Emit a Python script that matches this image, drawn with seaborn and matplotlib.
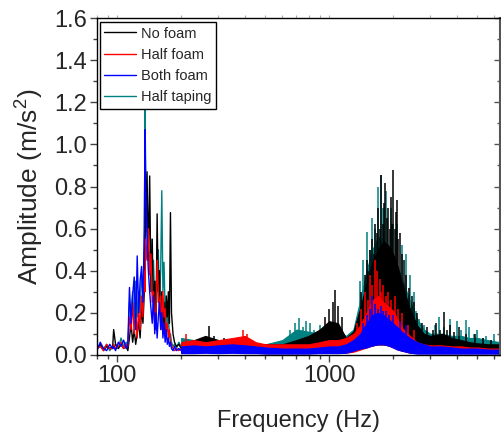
import numpy as np
import matplotlib
matplotlib.use("Agg")
import matplotlib.pyplot as plt
import matplotlib.ticker as mticker
import seaborn as sns

sns.set_theme(style="ticks")
plt.rcParams['font.family'] = ['Liberation Sans', 'DejaVu Sans']
plt.rcParams['mathtext.fontset'] = 'custom'
plt.rcParams['mathtext.rm'] = 'Liberation Sans'

# ---- low frequency part (80-200 Hz), read as individual traces ----
f_low = [80, 83, 86, 89, 92, 95, 96, 98, 101, 104, 107, 110, 112, 114, 116, 118, 120,
         122, 124, 126, 128, 130, 132, 134, 135, 136, 138, 140, 142, 144, 146, 148,
         150, 152, 154, 156, 158, 160, 162, 164, 166, 168, 170, 172, 174, 176, 178,
         180, 183, 186, 190, 195, 200]

nofoam_low = [0.03, 0.05, 0.02, 0.04, 0.03, 0.04, 0.12, 0.05, 0.03, 0.05, 0.03, 0.04, 0.02,
              0.08, 0.15, 0.06, 0.12, 0.05, 0.10, 0.16, 0.08, 0.22, 0.15, 0.30, 0.50, 0.70,
              0.87, 0.45, 0.85, 0.30, 0.55, 0.20, 0.35, 0.12, 0.67, 0.25, 0.40, 0.15, 0.30,
              0.12, 0.25, 0.10, 0.28, 0.18, 0.30, 0.15, 0.676, 0.20, 0.10, 0.06, 0.04, 0.05, 0.03]
halffoam_low = [0.03, 0.04, 0.02, 0.05, 0.03, 0.03, 0.05, 0.03, 0.04, 0.06, 0.03, 0.05, 0.04,
                0.18, 0.12, 0.25, 0.10, 0.20, 0.08, 0.22, 0.12, 0.28, 0.18, 0.40, 0.30, 0.55,
                0.45, 0.60, 0.38, 0.48, 0.25, 0.30, 0.15, 0.22, 0.45, 0.30, 0.20, 0.28, 0.12,
                0.30, 0.18, 0.22, 0.10, 0.15, 0.08, 0.12, 0.06, 0.05, 0.03, 0.02, 0.03, 0.02, 0.03]
bothfoam_low = [0.02, 0.06, 0.03, 0.02, 0.05, 0.03, 0.04, 0.02, 0.06, 0.04, 0.07, 0.03, 0.05,
                0.32, 0.15, 0.28, 0.37, 0.12, 0.47, 0.20, 0.35, 0.42, 0.25, 0.60, 1.07, 0.80,
                0.55, 0.40, 0.30, 0.22, 0.15, 0.28, 0.10, 0.20, 0.08, 0.18, 0.25, 0.12, 0.20,
                0.08, 0.15, 0.06, 0.12, 0.05, 0.08, 0.04, 0.06, 0.03, 0.02, 0.04, 0.02, 0.03, 0.02]
halftaping_low = [0.03, 0.04, 0.03, 0.05, 0.02, 0.04, 0.03, 0.05, 0.03, 0.08, 0.04, 0.06, 0.03,
                  0.25, 0.20, 0.30, 0.15, 0.35, 0.18, 0.30, 0.20, 0.38, 0.30, 0.50, 1.17, 0.85,
                  0.60, 0.50, 0.40, 0.55, 0.30, 0.45, 0.25, 0.35, 0.30, 0.50, 0.25, 0.40, 0.78,
                  0.30, 0.44, 0.20, 0.25, 0.12, 0.20, 0.08, 0.10, 0.06, 0.04, 0.05, 0.03, 0.06, 0.04]

# ---- higher frequency part (200-6400 Hz): dense noise band (lower / upper envelope) ----
f_band = [200, 230, 260, 300, 350, 400, 450, 500, 600, 700, 800, 900, 1000, 1100, 1200,
          1300, 1400, 1500, 1600, 1700, 1800, 1900, 2000, 2100, 2200, 2400, 2600, 2800,
          3000, 3400, 3800, 4200, 4600, 5000, 5600, 6400]

nofoam_hi = [0.05, 0.07, 0.09, 0.07, 0.06, 0.07, 0.05, 0.05, 0.05, 0.07, 0.09, 0.12, 0.16,
             0.15, 0.08, 0.11, 0.22, 0.34, 0.44, 0.50, 0.54, 0.52, 0.48, 0.42, 0.34, 0.22,
             0.14, 0.10, 0.09, 0.10, 0.08, 0.07, 0.06, 0.055, 0.05, 0.05]
nofoam_lo = [0.015, 0.015, 0.02, 0.015, 0.015, 0.015, 0.01, 0.01, 0.01, 0.01, 0.015, 0.02,
             0.02, 0.02, 0.015, 0.02, 0.03, 0.04, 0.045, 0.05, 0.05, 0.045, 0.04, 0.03, 0.02,
             0.015, 0.015, 0.015, 0.015, 0.015, 0.015, 0.015, 0.015, 0.015, 0.015, 0.015]
halffoam_hi = [0.06, 0.07, 0.06, 0.07, 0.08, 0.09, 0.06, 0.05, 0.05, 0.05, 0.05, 0.06, 0.07,
               0.07, 0.08, 0.10, 0.14, 0.20, 0.26, 0.28, 0.25, 0.23, 0.21, 0.17, 0.13, 0.09,
               0.06, 0.05, 0.045, 0.045, 0.04, 0.04, 0.035, 0.035, 0.03, 0.03]
halffoam_lo = [0.01, 0.01, 0.012, 0.01, 0.012, 0.01, 0.01, 0.008, 0.008, 0.008, 0.008, 0.01,
               0.01, 0.01, 0.01, 0.015, 0.025, 0.035, 0.045, 0.05, 0.05, 0.045, 0.035, 0.025,
               0.02, 0.01, 0.008, 0.008, 0.008, 0.008, 0.008, 0.008, 0.008, 0.008, 0.008, 0.008]
bothfoam_hi = [0.04, 0.045, 0.04, 0.045, 0.05, 0.045, 0.04, 0.035, 0.03, 0.03, 0.03, 0.035,
               0.04, 0.04, 0.05, 0.07, 0.10, 0.15, 0.19, 0.20, 0.19, 0.17, 0.15, 0.13, 0.11,
               0.08, 0.06, 0.05, 0.04, 0.04, 0.035, 0.03, 0.03, 0.03, 0.025, 0.025]
bothfoam_lo = [0.008, 0.008, 0.01, 0.008, 0.01, 0.008, 0.008, 0.006, 0.006, 0.006, 0.006,
               0.008, 0.008, 0.008, 0.01, 0.02, 0.03, 0.035, 0.045, 0.05, 0.05, 0.045, 0.035,
               0.025, 0.02, 0.01, 0.006, 0.006, 0.006, 0.006, 0.006, 0.006, 0.006, 0.006,
               0.006, 0.006]
halftaping_hi = [0.08, 0.07, 0.06, 0.06, 0.05, 0.05, 0.05, 0.05, 0.07, 0.12, 0.11, 0.10, 0.12,
                 0.11, 0.09, 0.12, 0.26, 0.40, 0.50, 0.56, 0.55, 0.50, 0.46, 0.42, 0.36, 0.26,
                 0.17, 0.12, 0.10, 0.10, 0.09, 0.09, 0.08, 0.08, 0.07, 0.06]
halftaping_lo = [0.02, 0.02, 0.02, 0.02, 0.02, 0.02, 0.015, 0.015, 0.02, 0.02, 0.02, 0.02,
                 0.02, 0.02, 0.02, 0.02, 0.03, 0.04, 0.045, 0.05, 0.05, 0.045, 0.04, 0.03, 0.02,
                 0.02, 0.02, 0.02, 0.02, 0.02, 0.02, 0.02, 0.02, 0.02, 0.02, 0.02]

# ---- isolated spikes sticking out of the band ----
nofoam_pk_f = [271, 285, 320, 950, 1000, 1040, 1070, 1100, 1150, 1420, 1470, 1500, 1530,
               1550, 1593, 1620, 1650, 1680, 1700, 1730, 1764, 1800, 1820, 1843, 1870, 1900,
               1930, 1950, 1980, 2004, 2040, 2070, 2093, 2120, 2150, 2200, 2250, 2300, 2381,
               2450, 2500, 2600, 2750, 2900, 3100, 3200, 3350, 3478, 3600, 3700, 3900, 4100,
               4400, 4900, 5300, 5800]
nofoam_pk_a = [0.138, 0.09, 0.08, 0.18, 0.22, 0.25, 0.31, 0.23, 0.18, 0.30, 0.38, 0.45,
               0.40, 0.50, 0.55, 0.48, 0.62, 0.58, 0.70, 0.60, 0.855, 0.62, 0.72, 0.815, 0.65,
               0.70, 0.60, 0.75, 0.62, 0.878, 0.60, 0.68, 0.736, 0.55, 0.58, 0.48, 0.45, 0.38,
               0.32, 0.28, 0.25, 0.20, 0.15, 0.13, 0.12, 0.15, 0.12, 0.205, 0.12, 0.14, 0.11,
               0.13, 0.10, 0.10, 0.08, 0.07]
halffoam_pk_f = [210, 390, 410, 1350, 1420, 1480, 1520, 1560, 1600, 1646, 1690, 1730, 1760,
                 1800, 1850, 1900, 1960, 2050, 2120, 2200, 2350, 2500]
halffoam_pk_a = [0.10, 0.12, 0.10, 0.15, 0.22, 0.30, 0.26, 0.38, 0.33, 0.45, 0.40, 0.36, 0.30,
                 0.33, 0.28, 0.30, 0.26, 0.28, 0.22, 0.20, 0.14, 0.12]
bothfoam_pk_f = [1450, 1500, 1550, 1600, 1650, 1700, 1750, 1800, 1850, 1920, 2000, 2150, 2300]
bothfoam_pk_a = [0.15, 0.19, 0.22, 0.28, 0.24, 0.22, 0.23, 0.21, 0.21, 0.19, 0.19, 0.16, 0.14]
halftaping_pk_f = [650, 690, 720, 750, 777, 810, 850, 900, 1400, 1450, 1500, 1550, 1600, 1650,
                   1700, 1750, 1800, 1850, 1950, 2000, 2100, 2200, 2300, 2400, 2500, 2565,
                   2660, 2800, 2970, 3150, 3300, 3500, 3700, 4000, 4200, 4400, 4575, 4800,
                   5000, 5300, 5500, 6000]
halftaping_pk_a = [0.12, 0.15, 0.175, 0.13, 0.16, 0.15, 0.12, 0.14, 0.35, 0.45, 0.585, 0.50,
                   0.65, 0.60, 0.80, 0.855, 0.70, 0.78, 0.70, 0.62, 0.62, 0.52, 0.48, 0.38,
                   0.30, 0.21, 0.17, 0.14, 0.10, 0.14, 0.18, 0.13, 0.17, 0.16, 0.12, 0.166,
                   0.134, 0.10, 0.12, 0.08, 0.09, 0.10]

labels = ['No foam', 'Half foam', 'Both foam', 'Half taping']
colors = ['#000000', '#ff0000', '#0000ff', '#008080']

series = {
    'No foam': (nofoam_low, nofoam_lo, nofoam_hi, nofoam_pk_f, nofoam_pk_a),
    'Half foam': (halffoam_low, halffoam_lo, halffoam_hi, halffoam_pk_f, halffoam_pk_a),
    'Both foam': (bothfoam_low, bothfoam_lo, bothfoam_hi, bothfoam_pk_f, bothfoam_pk_a),
    'Half taping': (halftaping_low, halftaping_lo, halftaping_hi, halftaping_pk_f, halftaping_pk_a),
}

fig = plt.figure(figsize=(5.02, 4.43), dpi=100)
ax = fig.add_axes([0.193, 0.199, 0.803, 0.760])

# drawing order: teal at the back, then black, red, blue on top
draw_order = ['Half taping', 'No foam', 'Half foam', 'Both foam']
for i, name in enumerate(draw_order):
    c = colors[labels.index(name)]
    z = 2 + i
    low, lo, hi, pk_f, pk_a = series[name]
    sns.lineplot(x=f_low, y=low, color=c, linewidth=1.0, ax=ax, label=name,
                 estimator=None, sort=False, zorder=z)
    ax.fill_between(f_band, lo, hi, color=c, linewidth=0.8, edgecolor=c, zorder=z)
    # spikes start from the bottom of the band so the gap under it stays white
    base = np.interp(np.log10(pk_f), np.log10(f_band), lo)
    ax.vlines(pk_f, base, pk_a, color=c, linewidth=1.1, zorder=z)

ax.set_xscale('log')
ax.set_xlim(80, 6400)
ax.set_ylim(0, 1.6)
ax.yaxis.set_major_locator(mticker.MultipleLocator(0.2))
ax.yaxis.set_minor_locator(mticker.MultipleLocator(0.1))
ax.yaxis.set_major_formatter(mticker.FormatStrFormatter('%.1f'))
ax.xaxis.set_major_locator(mticker.LogLocator(base=10))
ax.xaxis.set_minor_locator(mticker.LogLocator(base=10, subs=np.arange(2, 10)))
ax.xaxis.set_minor_formatter(mticker.NullFormatter())
ax.xaxis.set_major_formatter(mticker.FuncFormatter(lambda v, p: '%d' % v))

for s in ax.spines.values():
    s.set_color('black')
    s.set_linewidth(1.0)
    s.set_zorder(10)
ax.spines['right'].set_color('#555555')
ax.spines['right'].set_linewidth(1.5)
ax.tick_params(axis='both', which='major', labelsize=17, direction='out', length=5,
               width=1, color='#444444', pad=2)
ax.tick_params(axis='both', which='minor', direction='out', length=3, width=1, color='#444444')

# right axis: inward ticks, no labels; top axis: tiny outward ticks
right = ax.secondary_yaxis('right')
right.yaxis.set_major_locator(mticker.MultipleLocator(0.2))
right.yaxis.set_minor_locator(mticker.MultipleLocator(0.1))
right.tick_params(which='both', direction='in', labelright=False, color='#555555', width=1)
right.tick_params(which='major', length=4)
right.tick_params(which='minor', length=2.5)
right.spines['right'].set_visible(False)
top = ax.secondary_xaxis('top')
top.set_xscale('log')
top.xaxis.set_major_locator(mticker.LogLocator(base=10))
top.xaxis.set_minor_locator(mticker.LogLocator(base=10, subs=np.arange(2, 10)))
top.tick_params(which='both', direction='out', length=2, width=0.8, color='#aaaaaa',
                labeltop=False)
top.spines['top'].set_visible(False)

ax.set_xlabel('Frequency (Hz)', fontsize=17, labelpad=17)
ax.set_ylabel('Amplitude (m/s$^2$)', fontsize=19, labelpad=7)

handles, lbls = ax.get_legend_handles_labels()
hmap = dict(zip(lbls, handles))
leg = ax.legend([hmap[l] for l in labels], labels, loc='upper left',
                bbox_to_anchor=(0.007, 0.988), fontsize=10.5, frameon=True,
                fancybox=False, edgecolor='black', framealpha=1, borderpad=0.3,
                handlelength=2.2, handletextpad=0.35, labelspacing=0.5, borderaxespad=0)
leg.get_frame().set_linewidth(1.0)
leg.set_zorder(20)
for h in leg.get_lines():
    h.set_linewidth(1.0)

fig.savefig('out.png', dpi=100)
